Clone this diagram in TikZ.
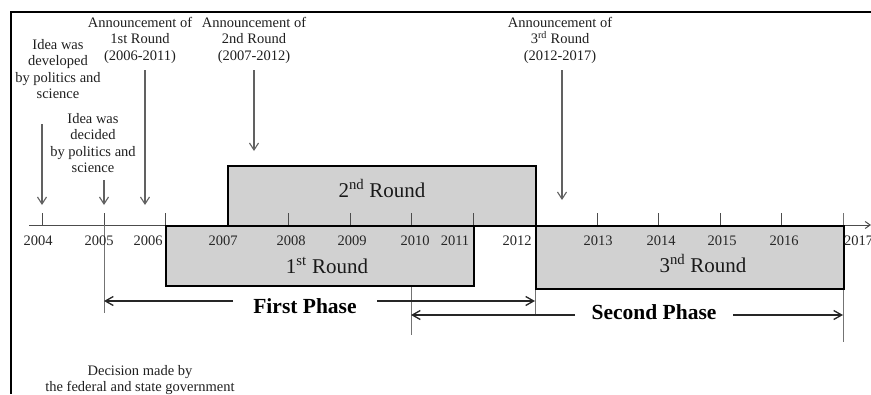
\documentclass[tikz,border=0pt]{standalone}
\usepackage{fontspec}
\setmainfont{Liberation Serif}
\usetikzlibrary{arrows.meta}
\begin{document}
\begin{tikzpicture}[x=1pt,y=-1pt,
  txt/.style={font=\fontsize{14.5}{16.5}\selectfont, inner sep=0pt, align=center, text=black!88},
  yr/.style={font=\fontsize{14.5}{16.5}\selectfont, inner sep=0pt, anchor=base, text=black!85},
  rnd/.style={draw=black, line width=2.4pt, fill=black!18, inner sep=0pt, anchor=north west},
  rndlbl/.style={font=\fontsize{21}{24}\selectfont, inner sep=0pt, anchor=base, text=black!90},
  phlbl/.style={font=\fontsize{21.5}{24}\selectfont\bfseries, inner sep=0pt, anchor=base},
  ann/.style={draw=black!62, line width=1.1pt, -{Straight Barb[length=7pt,width=9pt]}},
  phase/.style={draw=black!85, line width=1.3pt, -{Straight Barb[length=8pt,width=9pt]}},
  guide/.style={draw=black!55, line width=0.9pt},
  tickmark/.style={draw=black!70, line width=1pt},
]
\useasboundingbox (0,0) rectangle (871,394);

% outer frame (top and left edges)
\coordinate (frTR) at (871,12);
\coordinate (frTL) at (11,12);
\coordinate (frBL) at (11,394);
\draw[line width=2pt] (frTR) -- (frTL) -- (frBL);

% time axis
\coordinate (ax0) at (29,225);
\coordinate (ax1) at (871,225);
\draw[tickmark, -{Straight Barb[length=5pt,width=7pt]}] (ax0) -- (ax1);

% vertical guide lines
\coordinate (g1a) at (104,213); \coordinate (g1b) at (104,313);
\coordinate (g2a) at (411,285); \coordinate (g2b) at (411,335);
\coordinate (g3a) at (535,288); \coordinate (g3b) at (535,315);
\coordinate (g4a) at (843,213); \coordinate (g4b) at (843,342);
\draw[guide] (g1a) -- (g1b);
\draw[guide] (g2a) -- (g2b);
\draw[guide] (g3a) -- (g3b);
\draw[guide] (g4a) -- (g4b);

% funding rounds
\node[rnd, minimum width=308pt, minimum height=60pt] (r1) at (165,225) {};
\node[rnd, minimum width=308pt, minimum height=60pt] (r2) at (227,165) {};
\node[rnd, minimum width=308pt, minimum height=63pt] (r3) at (535,225) {};

% year ticks
\foreach \x in {42,104,165,288,350,411,473,597,658,720,781}
  \draw[tickmark] (\x,213) -- (\x,225);

% year labels
\node[yr] (y2004) at (38,245) {2004};
\node[yr] (y2005) at (99,245) {2005};
\node[yr] (y2006) at (148,245) {2006};
\node[yr] (y2007) at (223,245) {2007};
\node[yr] (y2008) at (291,245) {2008};
\node[yr] (y2009) at (352,245) {2009};
\node[yr] (y2010) at (415,245) {2010};
\node[yr] (y2011) at (455,245) {2011};
\node[yr] (y2012) at (517,245) {2012};
\node[yr] (y2013) at (598,245) {2013};
\node[yr] (y2014) at (661,245) {2014};
\node[yr] (y2015) at (722,245) {2015};
\node[yr] (y2016) at (784,245) {2016};
\node[yr, anchor=base west] (y2017) at (844,245) {2017};

% round labels
\node[rndlbl] (l2) at (382,197) {2\textsuperscript{nd} Round};
\node[rndlbl] (l1) at (327,273) {1\textsuperscript{st} Round};
\node[rndlbl] (l3) at (703,272) {3\textsuperscript{nd} Round};

% annotations
\node[txt, anchor=north] (idea1) at (58,39) {Idea was\\developed\\by politics and\\science};
\node[txt, anchor=north] (idea2) at (93,113) {Idea was\\decided\\by politics and\\science};
\node[txt, anchor=north] (ann1) at (140,17) {Announcement of\\1st Round\\(2006-2011)};
\node[txt, anchor=north] (ann2) at (254,17) {Announcement of\\2nd Round\\(2007-2012)};
\node[txt, anchor=north] (ann3) at (560,17) {Announcement of\\3\textsuperscript{rd} Round\\(2012-2017)};
\node[txt, anchor=north] (dec) at (140,365) {Decision made by\\the federal and state government};

% annotation arrows
\coordinate (a1s) at (42,124);  \coordinate (a1e) at (42,205);
\coordinate (a2s) at (104,180); \coordinate (a2e) at (104,205);
\coordinate (a3s) at (145,70);  \coordinate (a3e) at (145,205);
\coordinate (a4s) at (254,70);  \coordinate (a4e) at (254,151);
\coordinate (a5s) at (562,70);  \coordinate (a5e) at (562,200);
\draw[ann] (a1s) -- (a1e);
\draw[ann] (a2s) -- (a2e);
\draw[ann] (a3s) -- (a3e);
\draw[ann] (a4s) -- (a4e);
\draw[ann] (a5s) -- (a5e);

% phases
\node[phlbl] (fp) at (305,313) {First Phase};
\coordinate (fpL) at (104,301); \coordinate (fpA) at (233,301);
\coordinate (fpB) at (377,301); \coordinate (fpR) at (535,301);
\draw[phase] (fpA) -- (fpL);
\draw[phase] (fpB) -- (fpR);

\node[phlbl] (sp) at (654,319) {Second Phase};
\coordinate (spL) at (411,315); \coordinate (spA) at (575,315);
\coordinate (spB) at (733,315); \coordinate (spR) at (843,315);
\draw[phase] (spA) -- (spL);
\draw[phase] (spB) -- (spR);
\end{tikzpicture}
\end{document}
